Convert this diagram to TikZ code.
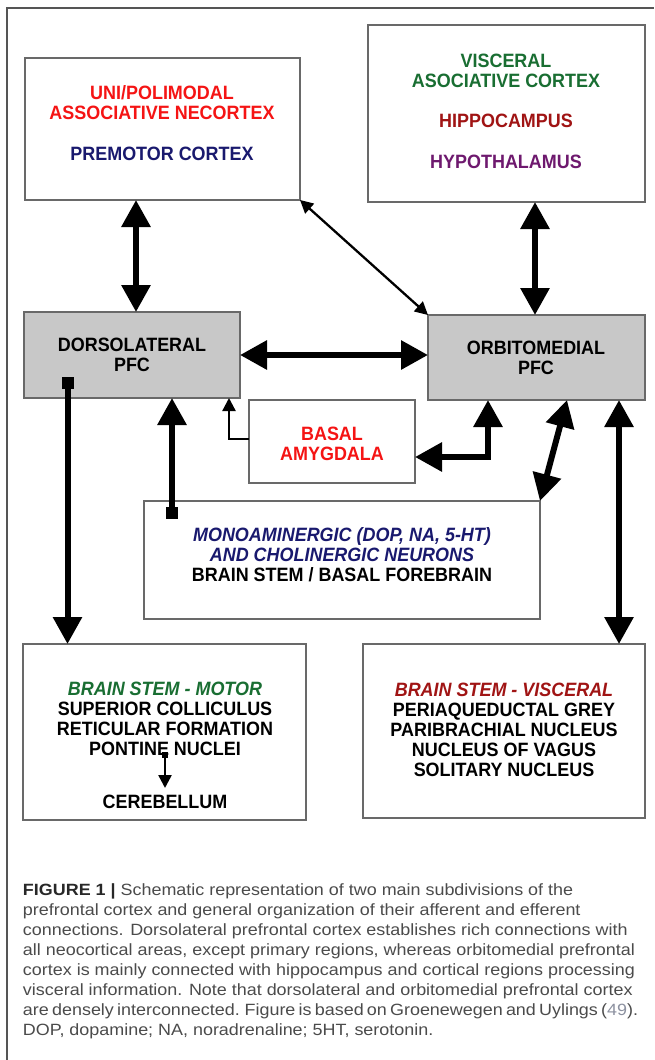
\documentclass[tikz,border=0pt]{standalone}
\usepackage{fontspec}
\setmainfont{Liberation Sans}
\newfontfamily\capfont[FakeStretch=1.1]{Liberation Sans}
\newfontfamily\lblfont[FakeStretch=0.93]{Liberation Sans}
\usetikzlibrary{arrows.meta,calc}
\definecolor{boxline}{RGB}{105,105,105}
\definecolor{pfcfill}{RGB}{200,200,200}
\definecolor{brightred}{RGB}{245,20,20}
\definecolor{navy}{RGB}{25,25,110}
\definecolor{dgreen}{RGB}{25,110,50}
\definecolor{dred}{RGB}{160,20,20}
\definecolor{dpurple}{RGB}{110,25,110}
\definecolor{captext}{RGB}{75,75,75}
\definecolor{capbold}{RGB}{40,40,40}
\definecolor{refnum}{RGB}{140,145,160}
\definecolor{framecol}{RGB}{85,85,85}
\tikzset{
  box/.style={draw=boxline, line width=1.3pt, fill=white, inner sep=0pt, outer sep=0pt},
  pfcbox/.style={box, fill=pfcfill},
  lbl/.style={inner sep=0pt, outer sep=0pt, align=center, font=\lblfont\bfseries\fontsize{19.3}{20}\selectfont},
  capline/.style={inner sep=0pt, outer sep=0pt, anchor=base west, text=captext, font=\capfont\fontsize{16.3}{20}\selectfont},
  bigarrow/.style={line width=6pt, {Triangle[width=28pt,length=27pt]}-{Triangle[width=28pt,length=27pt]}},
  bigone/.style={line width=6pt, {Square[length=12pt,width=12pt]}-{Triangle[width=28pt,length=27pt]}},
  thinarrow/.style={line width=2.3pt, -{Triangle[width=13pt,length=13pt]}},
  thinboth/.style={line width=2.3pt, {Triangle[width=13pt,length=13pt]}-{Triangle[width=13pt,length=13pt]}},
  smallone/.style={line width=2.5pt, {Square[length=6pt,width=6pt]}-{Triangle[width=13pt,length=13pt]}}
}
\begin{document}
\begin{tikzpicture}[x=1pt,y=-1pt]
\useasboundingbox (0,0) rectangle (654,1060);
\fill[white] (0,0) rectangle (654,1060);
% outer frame (top and left edges)
\draw[framecol, line width=1.4pt] (7,1060) -- (7,8) -- (654,8);

% boxes
\node[box, minimum width=275pt, minimum height=142pt] (uni) at (162.5,129) {};
\node[box, minimum width=277pt, minimum height=177pt] (visc) at (506.5,113.5) {};
\node[pfcbox, minimum width=216pt, minimum height=86pt] (dl) at (132,355) {};
\node[pfcbox, minimum width=217pt, minimum height=85pt] (om) at (536.5,357.5) {};
\node[box, minimum width=166pt, minimum height=83pt] (amy) at (332,441.5) {};
\node[box, minimum width=396pt, minimum height=118pt] (mono) at (342,560) {};
\node[box, minimum width=283pt, minimum height=176pt] (motor) at (164.5,732) {};
\node[box, minimum width=282pt, minimum height=174pt] (bsv) at (504,731) {};

% texts
\node[lbl] (unitext) at (162,123.5) {\textcolor{brightred}{UNI/POLIMODAL}\\\textcolor{brightred}{ASSOCIATIVE NECORTEX}\\[21pt]\textcolor{navy}{PREMOTOR CORTEX}};
\node[lbl] (visctext) at (506,111.5) {\textcolor{dgreen}{VISCERAL}\\\textcolor{dgreen}{ASOCIATIVE CORTEX}\\[20pt]\textcolor{dred}{HIPPOCAMPUS}\\[21pt]\textcolor{dpurple}{HYPOTHALAMUS}};
\node[lbl] (dltext) at (132,355) {DORSOLATERAL\\PFC};
\node[lbl] (omtext) at (536,358) {ORBITOMEDIAL\\PFC};
\node[lbl, text=brightred] (amytext) at (332,443.5) {BASAL\\AMYGDALA};
\node[lbl] (monotext) at (342,555) {\textcolor{navy}{\itshape MONOAMINERGIC (DOP, NA, 5-HT)}\\\textcolor{navy}{\itshape AND CHOLINERGIC NEURONS}\\BRAIN STEM / BASAL FOREBRAIN};
\node[lbl] (motortext) at (165,718.5) {\textcolor{dgreen}{\itshape BRAIN STEM - MOTOR}\\SUPERIOR COLLICULUS\\RETICULAR FORMATION\\PONTINE NUCLEI};
\node[lbl] (cereb) at (165,802) {CEREBELLUM};
\node[lbl] (bsvtext) at (504,730) {\textcolor{dred}{\itshape BRAIN STEM - VISCERAL}\\PERIAQUEDUCTAL GREY\\PARIBRACHIAL NUCLEUS\\NUCLEUS OF VAGUS\\SOLITARY NUCLEUS};

% connectors
\draw[bigarrow] ([xshift=-26.5pt]uni.south) -- ([xshift=4pt]dl.north);
\draw[bigarrow] ([xshift=28.5pt]visc.south) -- ([xshift=-1.5pt]om.north);
\draw[thinboth] (uni.south east) -- (om.north west);
\draw[bigarrow] (dl.east) -- (dl.east -| om.west);
\draw[thinarrow] ([yshift=2.5pt]amy.west) -| ([xshift=97pt]dl.south);
\draw[bigarrow, line join=miter] ([xshift=-48.5pt]om.south) |- ([yshift=-15.5pt]amy.east);
\draw[bigarrow] ([xshift=30.5pt]om.south) -- (mono.north east);
\draw[bigarrow] ([xshift=82.5pt]om.south) -- ([xshift=115pt]bsv.north);
\draw[bigone] ([xshift=-170pt,yshift=-18pt]mono.north) -- ([xshift=40pt]dl.south);
\draw[bigone] ([xshift=-64.5pt,yshift=21pt]dl.south) -- ([xshift=-97pt]motor.north);
\coordinate (cs) at (165,752);
\coordinate (ce) at (165,788);
\draw[smallone] (cs) -- (ce);

% caption
\node[capline] (cap1) at (23,895) {\textcolor{capbold}{\bfseries FIGURE 1 |} Schematic representation of two main subdivisions of the};
\node[capline] (cap2) at (23,915) {prefrontal cortex and general organization of their afferent and efferent};
\node[capline] (cap3) at (23,935) {connections. Dorsolateral prefrontal cortex establishes rich connections with};
\node[capline] (cap4) at (23,955) {all neocortical areas, except primary regions, whereas orbitomedial prefrontal};
\node[capline] (cap5) at (23,975) {cortex is mainly connected with hippocampus and cortical regions processing};
\node[capline] (cap6) at (23,995) {visceral information. Note that dorsolateral and orbitomedial prefrontal cortex};
\node[capline] (cap7) at (23,1015) {\spaceskip=0.65\fontdimen2\font are densely interconnected. Figure is based on Groenewegen and Uylings (\textcolor{refnum}{49}).};
\node[capline] (cap8) at (23,1035) {DOP, dopamine; NA, noradrenaline; 5HT, serotonin.};
\end{tikzpicture}
\end{document}
